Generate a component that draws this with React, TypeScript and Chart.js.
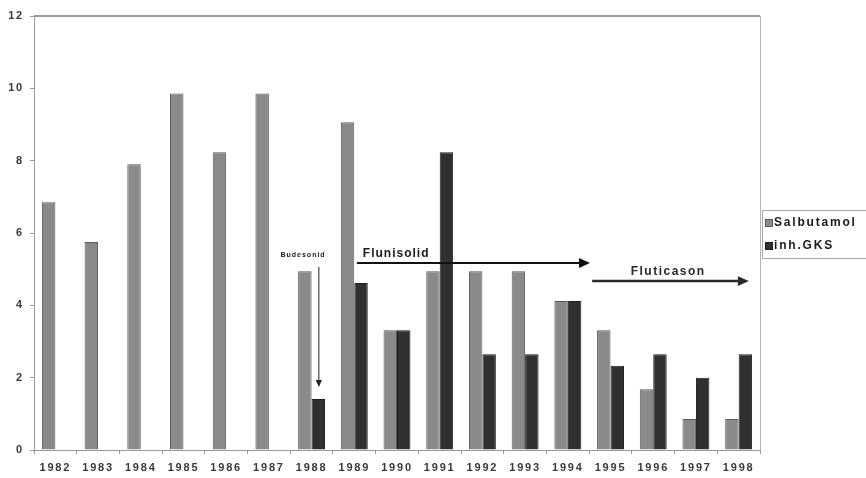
import React, { useEffect, useRef } from "react";
import { Chart, registerables } from "chart.js";

Chart.register(...registerables);

// Categories and series values
const years = ["1982", "1983", "1984", "1985", "1986", "1987", "1988", "1989", "1990", "1991", "1992", "1993", "1994", "1995", "1996", "1997", "1998"];
const salbutamol = [6.85, 5.75, 7.9, 9.86, 8.23, 9.86, 4.94, 9.06, 3.31, 4.94, 4.94, 4.94, 4.12, 3.31, 1.68, 0.86, 0.86];
const inhGKS = [null, null, null, null, null, null, 1.41, 4.62, 3.31, 8.23, 2.65, 2.65, 4.12, 2.33, 2.65, 2.0, 2.65];
const seriesNames = ["Salbutamol", "inh.GKS"];

// Y axis range
const yMin = 0;
const yMax = 12;
const yStep = 2;

// Text annotations (positions in data units: category index, value)
const noteLabels = ["Budesonid", "Flunisolid", "Fluticason"];
const noteX = [5.8, 7.98, 14.35];
const noteY = [5.39, 5.44, 4.92];
// Arrows: [x0, y0, x1, y1] in data units
const budesonidArrow = [6.17, 5.06, 6.17, 1.74];
const flunisolidArrow = [7.06, 5.17, 12.52, 5.17];
const fluticasonArrow = [12.57, 4.67, 16.24, 4.67];

const FONT = "'Liberation Sans', Arial, sans-serif";
const SAL_FILL = "#8a8a8a";
const SAL_EDGE = "#5a5a5a";
const GKS_FILL = "#303030";
const GKS_EDGE = "#1e1e1e";

function drawArrow(ctx: CanvasRenderingContext2D, x0: number, y0: number, x1: number, y1: number, width: number, head: number, color: string) {
  const ang = Math.atan2(y1 - y0, x1 - x0);
  const hw = head * 0.45;
  const bx = x1 - Math.cos(ang) * head;
  const by = y1 - Math.sin(ang) * head;
  ctx.save();
  ctx.strokeStyle = color;
  ctx.fillStyle = color;
  ctx.lineWidth = width;
  ctx.beginPath();
  ctx.moveTo(x0, y0);
  ctx.lineTo(bx, by);
  ctx.stroke();
  ctx.beginPath();
  ctx.moveTo(x1, y1);
  ctx.lineTo(bx - Math.sin(ang) * hw, by + Math.cos(ang) * hw);
  ctx.lineTo(bx + Math.sin(ang) * hw, by - Math.cos(ang) * hw);
  ctx.closePath();
  ctx.fill();
  ctx.restore();
}

// Wide tracking for the axis labels
const spacingPlugin = {
  id: "spacing",
  beforeDraw(chart: any) {
    (chart.ctx as any).letterSpacing = "1.8px";
  },
};

// Top and right edges of the plot frame
const framePlugin = {
  id: "frame",
  beforeDatasetsDraw(chart: any) {
    const { ctx, chartArea } = chart;
    ctx.save();
    ctx.strokeStyle = "#9a9a9a";
    ctx.lineWidth = 2;
    ctx.beginPath();
    ctx.moveTo(chartArea.left, chartArea.top);
    ctx.lineTo(chartArea.right, chartArea.top);
    ctx.stroke();
    ctx.strokeStyle = "#b5b5b5";
    ctx.lineWidth = 1;
    ctx.beginPath();
    ctx.moveTo(chartArea.right + 0.5, chartArea.top);
    ctx.lineTo(chartArea.right + 0.5, chartArea.bottom);
    ctx.stroke();
    ctx.restore();
  },
};

// Drug labels and arrows
const notesPlugin = {
  id: "notes",
  afterDatasetsDraw(chart: any) {
    const { ctx } = chart;
    const xs = chart.scales.x;
    const ys = chart.scales.y;
    const px = (v: number) => xs.getPixelForValue(v);
    const py = (v: number) => ys.getPixelForValue(v);

    ctx.save();
    ctx.textAlign = "center";
    ctx.textBaseline = "middle";
    ctx.fillStyle = "#1a1a1a";

    (ctx as any).letterSpacing = "1px";
    ctx.font = `bold 7px ${FONT}`;
    ctx.fillText(noteLabels[0], px(noteX[0]), py(noteY[0]));

    (ctx as any).letterSpacing = "1px";
    ctx.font = `bold 12px ${FONT}`;
    ctx.fillText(noteLabels[1], px(noteX[1]), py(noteY[1]));

    (ctx as any).letterSpacing = "1.5px";
    ctx.fillStyle = "#2a2a2a";
    ctx.fillText(noteLabels[2], px(noteX[2]), py(noteY[2]));
    ctx.restore();

    const [a0, a1, a2, a3] = budesonidArrow;
    drawArrow(ctx, px(a0), py(a1), px(a2), py(a3), 1, 7, "#222");
    const [b0, b1, b2, b3] = flunisolidArrow;
    drawArrow(ctx, px(b0), py(b1), px(b2), py(b3), 2, 11, "#111");
    const [c0, c1, c2, c3] = fluticasonArrow;
    drawArrow(ctx, px(c0), py(c1), px(c2), py(c3), 2.5, 11, "#2a2a2a");
  },
};

// Boxed legend to the right of the plot
const legendPlugin = {
  id: "sideLegend",
  afterDraw(chart: any) {
    const { ctx, chartArea } = chart;
    const left = chartArea.right + 2;
    const top = 210;
    const bottom = 258;
    ctx.save();
    ctx.strokeStyle = "#a8a8a8";
    ctx.lineWidth = 1;
    ctx.strokeRect(left + 0.5, top + 0.5, 200, bottom - top);
    ctx.font = `bold 12px ${FONT}`;
    (ctx as any).letterSpacing = "1.8px";
    ctx.textBaseline = "middle";
    ctx.textAlign = "left";
    const rows = [223, 246];
    chart.data.datasets.forEach((ds: any, i: number) => {
      const cy = rows[i];
      ctx.fillStyle = ds.backgroundColor;
      ctx.strokeStyle = ds.borderColor;
      ctx.fillRect(left + 3, cy - 4, 8, 8);
      ctx.strokeRect(left + 3.5, cy - 3.5, 7, 7);
      ctx.fillStyle = "#1a1a1a";
      ctx.fillText(ds.label, left + 12, cy);
    });
    ctx.restore();
  },
};

export default function App() {
  const canvasRef = useRef<HTMLCanvasElement | null>(null);

  useEffect(() => {
    if (!canvasRef.current) return;
    const chart = new Chart(canvasRef.current, {
      type: "bar",
      data: {
        labels: years,
        datasets: [
          {
            label: seriesNames[0],
            data: salbutamol,
            backgroundColor: SAL_FILL,
            borderColor: SAL_EDGE,
            borderWidth: 1,
            categoryPercentage: 0.63,
            barPercentage: 1,
          },
          {
            label: seriesNames[1],
            data: inhGKS,
            backgroundColor: GKS_FILL,
            borderColor: GKS_EDGE,
            borderWidth: 1,
            categoryPercentage: 0.63,
            barPercentage: 1,
          },
        ],
      },
      options: {
        responsive: false,
        animation: false,
        devicePixelRatio: 1,
        layout: { padding: { top: 16, right: 106, left: 0, bottom: 0 } },
        plugins: {
          legend: { display: false },
          tooltip: { enabled: false },
          title: { display: false },
        },
        scales: {
          x: {
            offset: true,
            afterFit: (s: any) => {
              s.height = 28;
            },
            grid: {
              offset: true,
              drawOnChartArea: false,
              drawTicks: true,
              tickLength: 4,
              color: "#9a9a9a",
            },
            border: { display: true, color: "#9a9a9a", width: 1 },
            ticks: {
              color: "#3a3a3a",
              font: { family: FONT, size: 11, weight: "bold" },
              padding: 7,
              maxRotation: 0,
              autoSkip: false,
            },
          },
          y: {
            min: yMin,
            max: yMax,
            afterFit: (s: any) => {
              s.width = 34;
            },
            grid: {
              drawOnChartArea: false,
              drawTicks: true,
              tickLength: 4,
              color: "#9a9a9a",
            },
            border: { display: true, color: "#9a9a9a", width: 1 },
            ticks: {
              stepSize: yStep,
              color: "#3a3a3a",
              font: { family: FONT, size: 11, weight: "bold" },
              padding: 6,
            },
          },
        },
      },
      plugins: [spacingPlugin, framePlugin, notesPlugin, legendPlugin],
    } as any);
    return () => chart.destroy();
  }, []);

  return (
    <div style={{ position: "fixed", left: 0, top: 0, width: 866, height: 478, background: "#fff" }}>
      <canvas ref={canvasRef} width={866} height={478} style={{ display: "block" }} />
    </div>
  );
}
